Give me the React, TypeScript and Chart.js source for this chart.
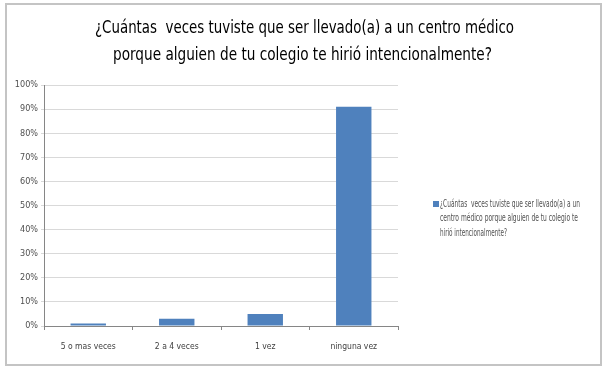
import React, { useEffect, useRef } from "react";
import { Chart, registerables } from "chart.js";

Chart.register(...registerables);

const categories = ["5 o mas veces", "2 a 4 veces", "1 vez", "ninguna vez"];
const values = [0.01, 0.03, 0.05, 0.91];
const yTicks = [0, 0.1, 0.2, 0.3, 0.4, 0.5, 0.6, 0.7, 0.8, 0.9, 1];
const seriesLabel = "¿Cuántas  veces tuviste que ser llevado(a) a un centro médico porque alguien de tu colegio te hirió intencionalmente?";
const titleLines = [
  "¿Cuántas  veces tuviste que ser llevado(a) a un centro médico",
  "porque alguien de tu colegio te hirió intencionalmente?",
];
const legendLines = [
  "¿Cuántas  veces tuviste que ser llevado(a) a un",
  "centro médico porque alguien de tu colegio te",
  "hirió intencionalmente?",
];

const FONT = "'DejaVu Sans Condensed', 'Liberation Sans', sans-serif";
const BAR = "#4f81bd";

const decorPlugin = {
  id: "decor",
  afterDraw(chart: any) {
    const ctx = chart.ctx;
    ctx.save();
    ctx.fillStyle = "#000";
    ctx.textAlign = "center";
    ctx.textBaseline = "middle";
    ctx.font = `18px ${FONT}`;
    ctx.fillText(titleLines[0], 304.5, 28, 419);
    ctx.fillText(titleLines[1], 302.5, 55, 379);
    // legend
    ctx.fillStyle = BAR;
    ctx.fillRect(433, 201, 6, 6);
    ctx.fillStyle = "#505050";
    ctx.textAlign = "left";
    ctx.font = `10.5px ${FONT}`;
    const widths = [140, 138, 67];
    legendLines.forEach((l, i) => ctx.fillText(l, 440, 204 + i * 14.5, widths[i]));
    ctx.restore();
  },
};

export default function App() {
  const ref = useRef<HTMLCanvasElement>(null);
  useEffect(() => {
    document.body.style.margin = "0";
    const chart = new Chart(ref.current!, {
      type: "bar",
      data: {
        labels: categories,
        datasets: [
          {
            label: seriesLabel,
            data: values,
            backgroundColor: BAR,
            borderWidth: 0,
            categoryPercentage: 1,
            barPercentage: 0.4,
          },
        ],
      },
      options: {
        responsive: false,
        animation: false,
        maintainAspectRatio: false,
        layout: { padding: { top: 85, right: 210, left: 0, bottom: 0 } },
        plugins: {
          legend: { display: false },
          title: { display: false },
          tooltip: { enabled: false },
        },
        scales: {
          x: {
            grid: { offset: true, drawOnChartArea: false, drawTicks: true, tickLength: 4, color: "#868686" },
            border: { color: "#868686" },
            ticks: { color: "#404040", font: { family: FONT, size: 8.5 }, padding: 12, maxRotation: 0 },
            afterFit(s: any) { s.height = 41; },
          },
          y: {
            min: 0,
            max: 1,
            afterBuildTicks(s: any) { s.ticks = yTicks.map((v) => ({ value: v })); },
            grid: { color: "#d9d9d9", drawTicks: true, tickLength: 3 },
            border: { color: "#868686" },
            ticks: {
              color: "#505050",
              font: { family: FONT, size: 9 },
              padding: 3,
              callback: (v: any) => Math.round(Number(v) * 100) + "%",
            },
            afterFit(s: any) { s.width = 44; },
          },
        },
      },
      plugins: [decorPlugin],
    });
    return () => chart.destroy();
  }, []);
  return (
    <div style={{ position: "fixed", left: 0, top: 0, width: 608, height: 367, background: "#fff" }}>
      <div style={{ position: "absolute", left: 5, top: 3, width: 597, height: 363, border: "2px solid #c4c4c4", boxSizing: "border-box" }} />
      <canvas ref={ref} width={608} height={367} style={{ position: "absolute", left: 0, top: 0 }} />
    </div>
  );
}
